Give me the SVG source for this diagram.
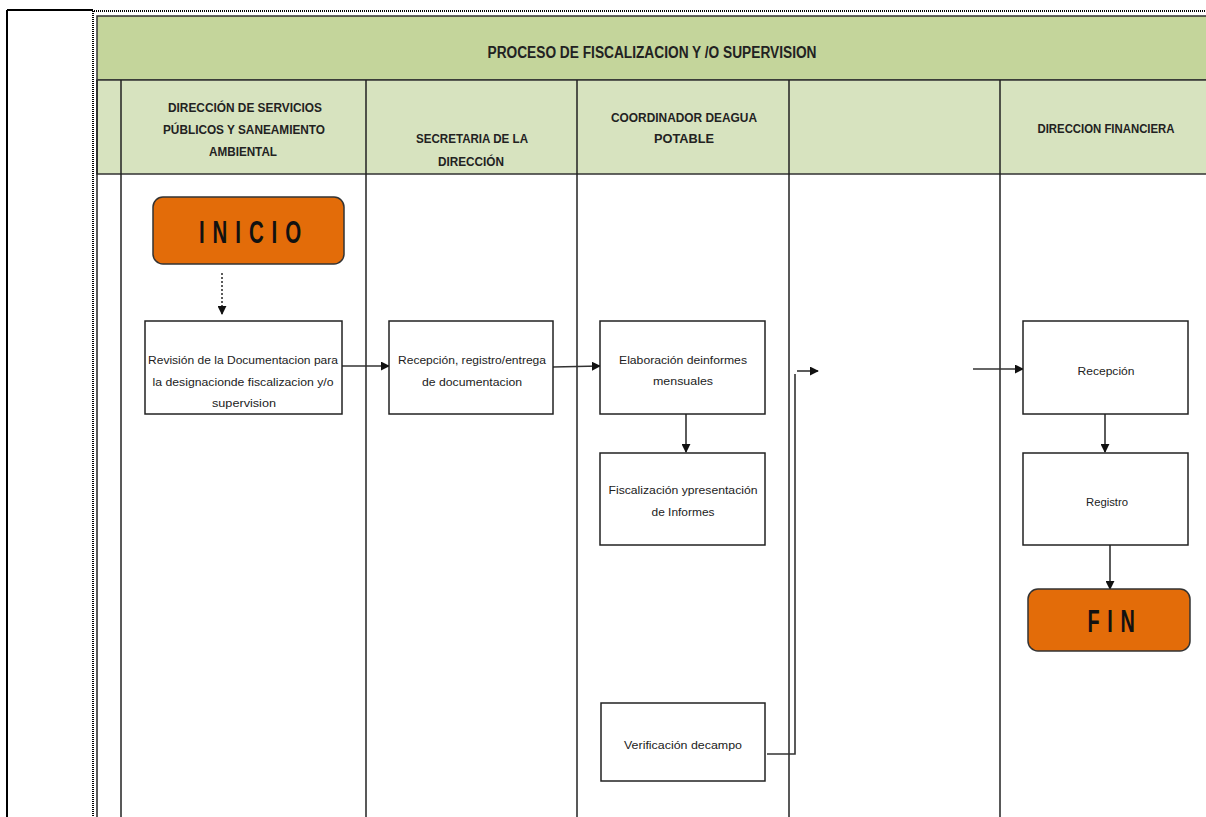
<svg xmlns="http://www.w3.org/2000/svg" width="1206" height="817" viewBox="0 0 1206 817">
<defs>
<style>
.hdr{font-family:"Liberation Sans Narrow","Liberation Sans",Arial,sans-serif;font-weight:bold;font-size:12.5px;fill:#222;text-anchor:middle}
.box{fill:#fff;stroke:#222;stroke-width:1.5}
.bt{font-family:"Liberation Sans Narrow","Liberation Sans",Arial,sans-serif;font-size:11px;fill:#222;text-anchor:middle}
.term{fill:#e36c09;stroke:#333;stroke-width:1.5}
.tt{font-family:"Liberation Sans",Arial,sans-serif;font-weight:bold;font-size:31px;letter-spacing:12px;fill:#111;text-anchor:middle}
.lane{stroke:#222;stroke-width:1.5;fill:none}
.con{stroke:#333;stroke-width:1.6;fill:none}
</style>
<marker id="ah" viewBox="0 0 10 10" refX="9" refY="5" markerWidth="9" markerHeight="9" markerUnits="userSpaceOnUse" orient="auto">
<path d="M0,0 L10,5 L0,10 z" fill="#111"/>
</marker>
</defs>
<rect width="1206" height="817" fill="#fff"/>
<g id="frame">
<line x1="7" y1="10" x2="7" y2="817" stroke="#000" stroke-width="2"/>
<line x1="7" y1="10" x2="93" y2="10" stroke="#000" stroke-width="2"/>
<line x1="92" y1="11" x2="1206" y2="11" stroke="#000" stroke-width="2" stroke-dasharray="1 1"/>
<line x1="93" y1="11" x2="93" y2="817" stroke="#000" stroke-width="2" stroke-dasharray="1 1"/>
<rect x="97" y="16" width="1112" height="64" fill="#c4d59b" stroke="#333" stroke-width="1.5"/>
<rect x="97" y="80" width="1112" height="94" fill="#d7e3bf" stroke="#333" stroke-width="1.5"/>
<text x="652" y="58" font-family="Liberation Sans Narrow, Liberation Sans, Arial, sans-serif" font-weight="bold" font-size="16" fill="#222" text-anchor="middle" textLength="329" lengthAdjust="spacingAndGlyphs">PROCESO DE FISCALIZACION Y /O SUPERVISION</text>
</g>
<g id="lanes">
<line class="lane" x1="97" y1="80" x2="97" y2="817"/>
<line class="lane" x1="121" y1="80" x2="121" y2="817"/>
<line class="lane" x1="366" y1="80" x2="366" y2="817"/>
<line class="lane" x1="577" y1="80" x2="577" y2="817"/>
<line class="lane" x1="789" y1="80" x2="789" y2="817"/>
<line class="lane" x1="1000" y1="80" x2="1000" y2="817"/>
<text class="hdr" x="245" y="112" textLength="154" lengthAdjust="spacingAndGlyphs">DIRECCIÓN DE SERVICIOS</text>
<text class="hdr" x="244" y="134" textLength="162" lengthAdjust="spacingAndGlyphs">PÚBLICOS Y SANEAMIENTO</text>
<text class="hdr" x="243" y="156" textLength="68" lengthAdjust="spacingAndGlyphs">AMBIENTAL</text>
<text class="hdr" x="472" y="143" textLength="112" lengthAdjust="spacingAndGlyphs">SECRETARIA DE LA</text>
<text class="hdr" x="471" y="166" textLength="66" lengthAdjust="spacingAndGlyphs">DIRECCIÓN</text>
<text class="hdr" x="684" y="122" textLength="146" lengthAdjust="spacingAndGlyphs">COORDINADOR DEAGUA</text>
<text class="hdr" x="684" y="143" textLength="60" lengthAdjust="spacingAndGlyphs">POTABLE</text>
<text class="hdr" x="1106" y="133" textLength="137" lengthAdjust="spacingAndGlyphs">DIRECCION FINANCIERA</text>
</g>
<g id="connectors">
<line class="con" x1="222" y1="273" x2="222" y2="314" stroke-dasharray="2 2" marker-end="url(#ah)"/>
<line class="con" x1="342" y1="366" x2="389" y2="366" marker-end="url(#ah)"/>
<line class="con" x1="553" y1="367" x2="600" y2="366" marker-end="url(#ah)"/>
<line class="con" x1="686" y1="414" x2="686" y2="452" stroke="#555" marker-end="url(#ah)"/>
<path class="con" d="M767,754 H795 V374" stroke="#666" stroke-width="2.5"/>
<line class="con" x1="797" y1="371" x2="818" y2="371" marker-end="url(#ah)"/>
<line class="con" x1="973" y1="369" x2="1023" y2="369" stroke="#555" marker-end="url(#ah)"/>
<line class="con" x1="1105" y1="414" x2="1105" y2="452" marker-end="url(#ah)"/>
<line class="con" x1="1110" y1="545" x2="1110" y2="589" stroke="#666" stroke-width="2" marker-end="url(#ah)"/>
</g>
<g id="inicio">
<rect class="term" x="153" y="197" width="191" height="67" rx="10"/>
<text class="tt" x="254" y="243" textLength="110" lengthAdjust="spacingAndGlyphs">INICIO</text>
</g>
<g id="revision">
<rect class="box" x="145" y="321" width="197" height="93"/>
<text class="bt" x="243" y="364" textLength="190" lengthAdjust="spacingAndGlyphs">Revisión de la Documentacion para</text>
<text class="bt" x="243" y="386" textLength="181" lengthAdjust="spacingAndGlyphs">la designacionde fiscalizacion y/o</text>
<text class="bt" x="244" y="407" textLength="64" lengthAdjust="spacingAndGlyphs">supervision</text>
</g>
<g id="recepcion-doc">
<rect class="box" x="389" y="321" width="164" height="93"/>
<text class="bt" x="472" y="364" textLength="148" lengthAdjust="spacingAndGlyphs">Recepción, registro/entrega</text>
<text class="bt" x="472" y="386" textLength="100" lengthAdjust="spacingAndGlyphs">de documentacion</text>
</g>
<g id="elaboracion">
<rect class="box" x="600" y="321" width="165" height="93"/>
<text class="bt" x="683" y="364" textLength="128" lengthAdjust="spacingAndGlyphs">Elaboración deinformes</text>
<text class="bt" x="683" y="385" textLength="60" lengthAdjust="spacingAndGlyphs">mensuales</text>
</g>
<g id="fiscalizacion">
<rect class="box" x="600" y="453" width="165" height="92"/>
<text class="bt" x="683" y="494" textLength="149" lengthAdjust="spacingAndGlyphs">Fiscalización ypresentación</text>
<text class="bt" x="683" y="516" textLength="63" lengthAdjust="spacingAndGlyphs">de Informes</text>
</g>
<g id="verificacion">
<rect class="box" x="601" y="703" width="164" height="78"/>
<text class="bt" x="683" y="749" textLength="118" lengthAdjust="spacingAndGlyphs">Verificación decampo</text>
</g>
<g id="recepcion">
<rect class="box" x="1023" y="321" width="165" height="93"/>
<text class="bt" x="1106" y="375" textLength="57" lengthAdjust="spacingAndGlyphs">Recepción</text>
</g>
<g id="registro">
<rect class="box" x="1023" y="453" width="165" height="92"/>
<text class="bt" x="1107" y="506" textLength="42" lengthAdjust="spacingAndGlyphs">Registro</text>
</g>
<g id="fin">
<rect class="term" x="1028" y="589" width="162" height="62" rx="10"/>
<text class="tt" x="1115" y="632" textLength="55" lengthAdjust="spacingAndGlyphs">FIN</text>
</g>
</svg>
